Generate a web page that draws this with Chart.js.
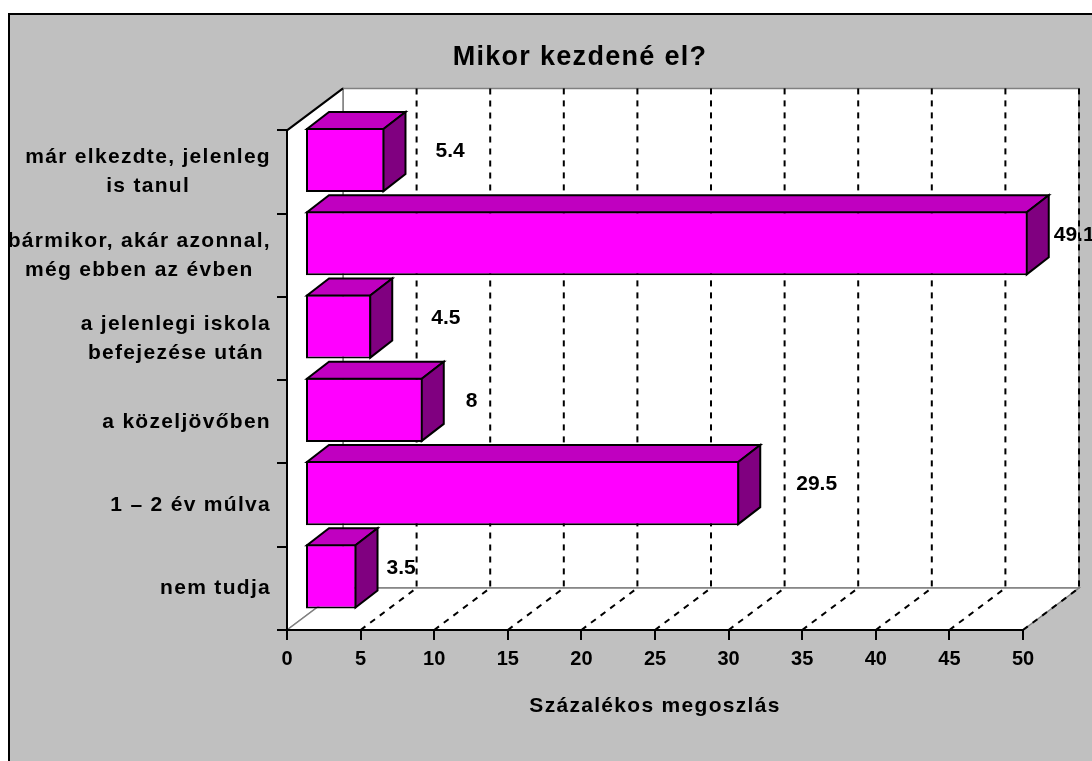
<!DOCTYPE html>
<html>
<head>
<meta charset="utf-8">
<script src="https://cdn.jsdelivr.net/npm/chart.js@4.4.0/dist/chart.umd.min.js"></script>
<style>
  html, body { margin: 0; padding: 0; background: #fff; overflow: hidden; }
  canvas { display: block; }
</style>
</head>
<body>
<canvas id="chart" width="1160" height="800"></canvas>
<script>
// data
const categories = [
  ['már elkezdte, jelenleg', 'is tanul'],
  ['bármikor, akár azonnal,', 'még ebben az évben'],
  ['a jelenlegi iskola', 'befejezése után'],
  ['a közeljövőben'],
  ['1 – 2 év múlva'],
  ['nem tudja']
];
const values = [5.4, 49.1, 4.5, 8, 29.5, 3.5];
const xMin = 0, xMax = 50, xStep = 5;

// styling
const FONT = "'Liberation Sans', Arial, sans-serif";
const labelGap = [29, 4, 38, 21, 35, 8];   // space between bar end and its value label
const WALL = { x: 56, y: -42 };            // depth of the 3d box
const BAR_OFF = { x: 18, y: -12 };         // bars sit a bit inside the box
const BAR_DEPTH = { x: 22, y: -17 };

function poly(ctx, pts, fill, stroke) {
  ctx.beginPath();
  pts.forEach((p, i) => i ? ctx.lineTo(p[0], p[1]) : ctx.moveTo(p[0], p[1]));
  ctx.closePath();
  if (fill) { ctx.fillStyle = fill; ctx.fill(); }
  if (stroke) { ctx.strokeStyle = stroke; ctx.stroke(); }
}
function line(ctx, x1, y1, x2, y2) {
  ctx.beginPath(); ctx.moveTo(x1, y1); ctx.lineTo(x2, y2); ctx.stroke();
}

const excel3d = {
  id: 'excel3d',
  beforeDraw(chart) {
    const ctx = chart.ctx;
    const { left, right, top, bottom } = chart.chartArea;
    const xs = chart.scales.x, ys = chart.scales.y;
    const dx = WALL.x, dy = WALL.y;

    ctx.save();
    // chart frame
    ctx.fillStyle = '#c0c0c0';
    ctx.fillRect(9, 14, chart.width, chart.height);
    ctx.strokeStyle = '#000';
    ctx.lineWidth = 2;
    ctx.strokeRect(9, 14, chart.width, chart.height);

    // walls and floor
    ctx.lineWidth = 1.5;
    poly(ctx, [[left + dx, top + dy], [right + dx, top + dy], [right + dx, bottom + dy], [left + dx, bottom + dy]], '#fff', '#808080');
    poly(ctx, [[left, top], [left + dx, top + dy], [left + dx, bottom + dy], [left, bottom]], '#fff', '#808080');
    poly(ctx, [[left, bottom], [right, bottom], [right + dx, bottom + dy], [left + dx, bottom + dy]], '#fff', '#808080');

    // dashed gridlines on back wall and floor
    ctx.strokeStyle = '#000';
    ctx.lineWidth = 2;
    ctx.setLineDash([6, 6]);
    xs.ticks.forEach(t => {
      if (t.value === xMin) return;
      const px = xs.getPixelForValue(t.value);
      line(ctx, px + dx, top + dy, px + dx, bottom + dy);
      line(ctx, px, bottom, px + dx, bottom + dy);
    });
    ctx.setLineDash([]);
    line(ctx, left, top, left + dx, top + dy);

    // category labels: block right-aligned, lines centred inside block
    ctx.letterSpacing = '1.3px';
    ctx.font = 'bold 21px ' + FONT;
    ctx.fillStyle = '#000';
    ctx.textAlign = 'center';
    ctx.textBaseline = 'middle';
    const rightEdge = left - 16;
    categories.forEach((lines, i) => {
      const cy = ys.getPixelForTick(i);
      const w = Math.max(...lines.map(s => ctx.measureText(s).width));
      lines.forEach((s, j) => {
        ctx.fillText(s, rightEdge - w / 2, cy + (j - (lines.length - 1) / 2) * 29);
      });
    });
    ctx.restore();
    ctx.letterSpacing = '1.3px';
  },
  beforeDatasetsDraw(chart) {
    chart.ctx.save();
    chart.ctx.translate(BAR_OFF.x, BAR_OFF.y);
  },
  afterDatasetsDraw(chart) {
    const ctx = chart.ctx;
    const meta = chart.getDatasetMeta(0);
    const bx = BAR_DEPTH.x, by = BAR_DEPTH.y;
    ctx.lineWidth = 2;
    ctx.lineJoin = 'miter';
    meta.data.forEach(bar => {
      const { x, y, base, height } = bar.getProps(['x', 'y', 'base', 'height'], true);
      const t = y - height / 2 + 1, b = y + height / 2 - 1, r = x - 1, l = base + 1;
      poly(ctx, [[l, t], [r, t], [r + bx, t + by], [l + bx, t + by]], '#c000c0', '#000');
      poly(ctx, [[r, t], [r + bx, t + by], [r + bx, b + by], [r, b]], '#800080', '#000');
    });
    ctx.restore();

    ctx.letterSpacing = '0px';
    ctx.save();
    ctx.font = 'bold 21px ' + FONT;
    ctx.fillStyle = '#000';
    ctx.textAlign = 'left';
    ctx.textBaseline = 'middle';
    meta.data.forEach((bar, i) => {
      const { x, y } = bar.getProps(['x', 'y'], true);
      ctx.fillText(String(values[i]), x + BAR_OFF.x + bx + labelGap[i], y + BAR_OFF.y + by / 2);
    });
    ctx.restore();
  }
};

new Chart(document.getElementById('chart'), {
  type: 'bar',
  data: {
    labels: categories,
    datasets: [{
      data: values,
      backgroundColor: '#ff00ff',
      borderColor: '#000',
      borderWidth: 2,
      borderSkipped: false,
      barPercentage: 0.77,
      categoryPercentage: 1,
      clip: false
    }]
  },
  options: {
    indexAxis: 'y',
    responsive: false,
    animation: false,
    layout: { padding: { left: 137, right: 137, top: 0, bottom: 0 } },
    plugins: {
      legend: { display: false },
      tooltip: { enabled: false },
      title: {
        display: true,
        text: 'Mikor kezdené el?',
        color: '#000',
        font: { family: FONT, size: 27, weight: 'bold', lineHeight: 1.2 },
        padding: { top: 41, bottom: 57 }
      }
    },
    scales: {
      x: {
        type: 'linear',
        min: xMin,
        max: xMax,
        ticks: {
          stepSize: xStep,
          color: '#000',
          font: { family: FONT, size: 20, weight: 'bold' },
          padding: 7,
          z: 1
        },
        grid: { drawOnChartArea: false, color: '#000', lineWidth: 2, tickLength: 10 },
        border: { color: '#000', width: 2 },
        title: {
          display: true,
          text: 'Százalékos megoszlás',
          color: '#000',
          font: { family: FONT, size: 21, weight: 'bold', lineHeight: 1.2 },
          padding: { top: 0, bottom: 81 }
        },
        afterFit(scale) { scale.height = 170; }
      },
      y: {
        ticks: { display: false },
        grid: { drawOnChartArea: false, color: '#000', lineWidth: 2, tickLength: 10, offset: true },
        border: { color: '#000', width: 2 },
        afterFit(scale) { scale.width = 150; }
      }
    }
  },
  plugins: [excel3d]
});
</script>
</body>
</html>
